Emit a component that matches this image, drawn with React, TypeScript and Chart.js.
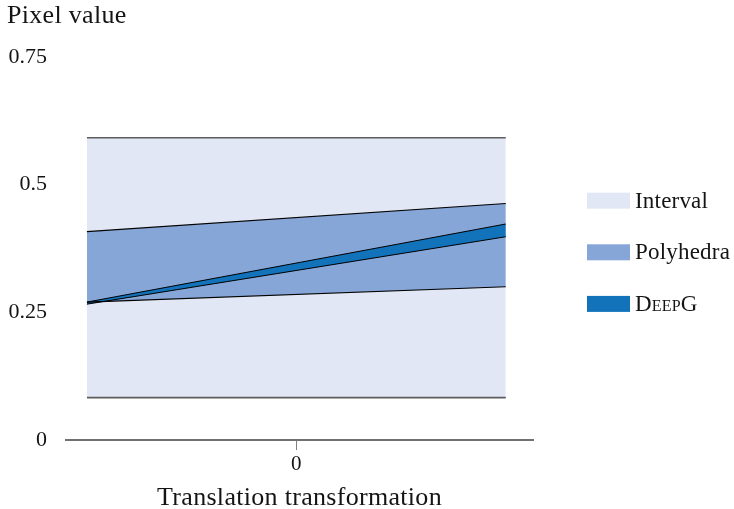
import { useEffect, useRef } from "react";
import { Chart, registerables } from "chart.js";

Chart.register(...registerables);

// Translation parameter at both ends of the range
const translation = [-1, 1];

// Lower / upper bounds of the pixel value for each method
const intervalUpper = [0.592, 0.592];
const intervalLower = [0.083, 0.083];
const polyhedraUpper = [0.408, 0.463];
const polyhedraLower = [0.27, 0.3];
const deepgUpper = [0.27, 0.423];
const deepgLower = [0.266, 0.398];

const seriesNames = ["Interval", "Polyhedra", "DeepG"];
const seriesColors = ["#e1e7f4", "#86a6d7", "#1273ba"];
const yTicks = [0, 0.25, 0.5, 0.75];
const xTicks = [0];

const FONT = "'Liberation Serif', 'Times New Roman', serif";
const INK = "#141414";

const toPoints = (ys: number[]) => translation.map((x, i) => ({ x, y: ys[i] }));

const band = (
  upper: number[],
  lower: number[],
  fillColor: string,
  edgeColor: string,
  edgeWidth: number,
  label: string
) => [
  {
    label,
    data: toPoints(upper),
    borderColor: edgeColor,
    borderWidth: edgeWidth,
    backgroundColor: fillColor,
    fill: "+1",
    pointRadius: 0,
    tension: 0,
  },
  {
    label: label + " (lower)",
    data: toPoints(lower),
    borderColor: edgeColor,
    borderWidth: edgeWidth,
    backgroundColor: fillColor,
    fill: false,
    pointRadius: 0,
    tension: 0,
  },
];

// Axis titles and the legend on the right
const decorations = {
  id: "decorations",
  afterDraw(chart: any) {
    const { ctx, chartArea } = chart;
    ctx.save();
    ctx.fillStyle = INK;
    ctx.font = `26px ${FONT}`;
    ctx.letterSpacing = "0.3px";
    ctx.textBaseline = "alphabetic";
    ctx.textAlign = "left";
    ctx.fillText("Pixel value", 7, 23);
    ctx.textAlign = "center";
    ctx.fillText(
      "Translation transformation",
      (chartArea.left + chartArea.right) / 2,
      505
    );

    ctx.letterSpacing = "0.2px";
    seriesNames.forEach((name, i) => {
      const cy = 200.7 + i * 51.6;
      ctx.fillStyle = seriesColors[i];
      ctx.fillRect(587, cy - 8, 43, 16);
      ctx.fillStyle = INK;
      ctx.font = `${i === 2 ? "small-caps " : ""}23px ${FONT}`;
      ctx.textAlign = "left";
      ctx.fillText(name, 635, cy + 6.8);
    });
    ctx.restore();
  },
};

export default function App() {
  const canvasRef = useRef<HTMLCanvasElement | null>(null);

  useEffect(() => {
    if (!canvasRef.current) return;
    const chart = new Chart(canvasRef.current, {
      type: "line",
      data: {
        datasets: [
          ...band(deepgUpper, deepgLower, seriesColors[2], "#000000", 1, seriesNames[2]),
          ...band(polyhedraUpper, polyhedraLower, seriesColors[1], "#000000", 1.1, seriesNames[1]),
          ...band(intervalUpper, intervalLower, seriesColors[0], "#5c5c5c", 1.6, seriesNames[0]),
        ] as any,
      },
      options: {
        responsive: false,
        animation: false,
        devicePixelRatio: 1,
        layout: { padding: { top: 57, right: 201, left: 0, bottom: 0 } },
        plugins: {
          legend: { display: false },
          tooltip: { enabled: false },
          filler: { drawTime: "beforeDatasetsDraw" },
        } as any,
        scales: {
          x: {
            type: "linear",
            min: -1.1,
            max: 1.13,
            afterBuildTicks: (scale: any) => {
              scale.ticks = xTicks.map((value) => ({ value }));
            },
            afterFit: (scale: any) => {
              scale.height = 69;
            },
            grid: {
              display: true,
              drawOnChartArea: false,
              drawTicks: true,
              tickLength: 10,
              color: "#808080",
              lineWidth: 1,
            },
            border: { display: true, color: "#707070", width: 2 },
            ticks: {
              padding: 2,
              color: INK,
              font: { family: FONT, size: 21 },
              maxRotation: 0,
              callback: (v: any) => String(v),
            },
          },
          y: {
            type: "linear",
            min: 0,
            max: 0.75,
            afterBuildTicks: (scale: any) => {
              scale.ticks = yTicks.map((value) => ({ value }));
            },
            afterFit: (scale: any) => {
              scale.width = 66;
            },
            grid: { display: false },
            border: { display: false },
            ticks: {
              padding: 11,
              color: INK,
              font: { family: FONT, size: 22 },
              callback: (v: any) => String(v),
            },
          },
        },
      },
      plugins: [decorations],
    });
    return () => chart.destroy();
  }, []);

  return (
    <div
      style={{
        position: "fixed",
        left: 0,
        top: 0,
        width: 734,
        height: 509,
        background: "#ffffff",
      }}
    >
      <canvas ref={canvasRef} width={734} height={509} style={{ display: "block" }} />
    </div>
  );
}
